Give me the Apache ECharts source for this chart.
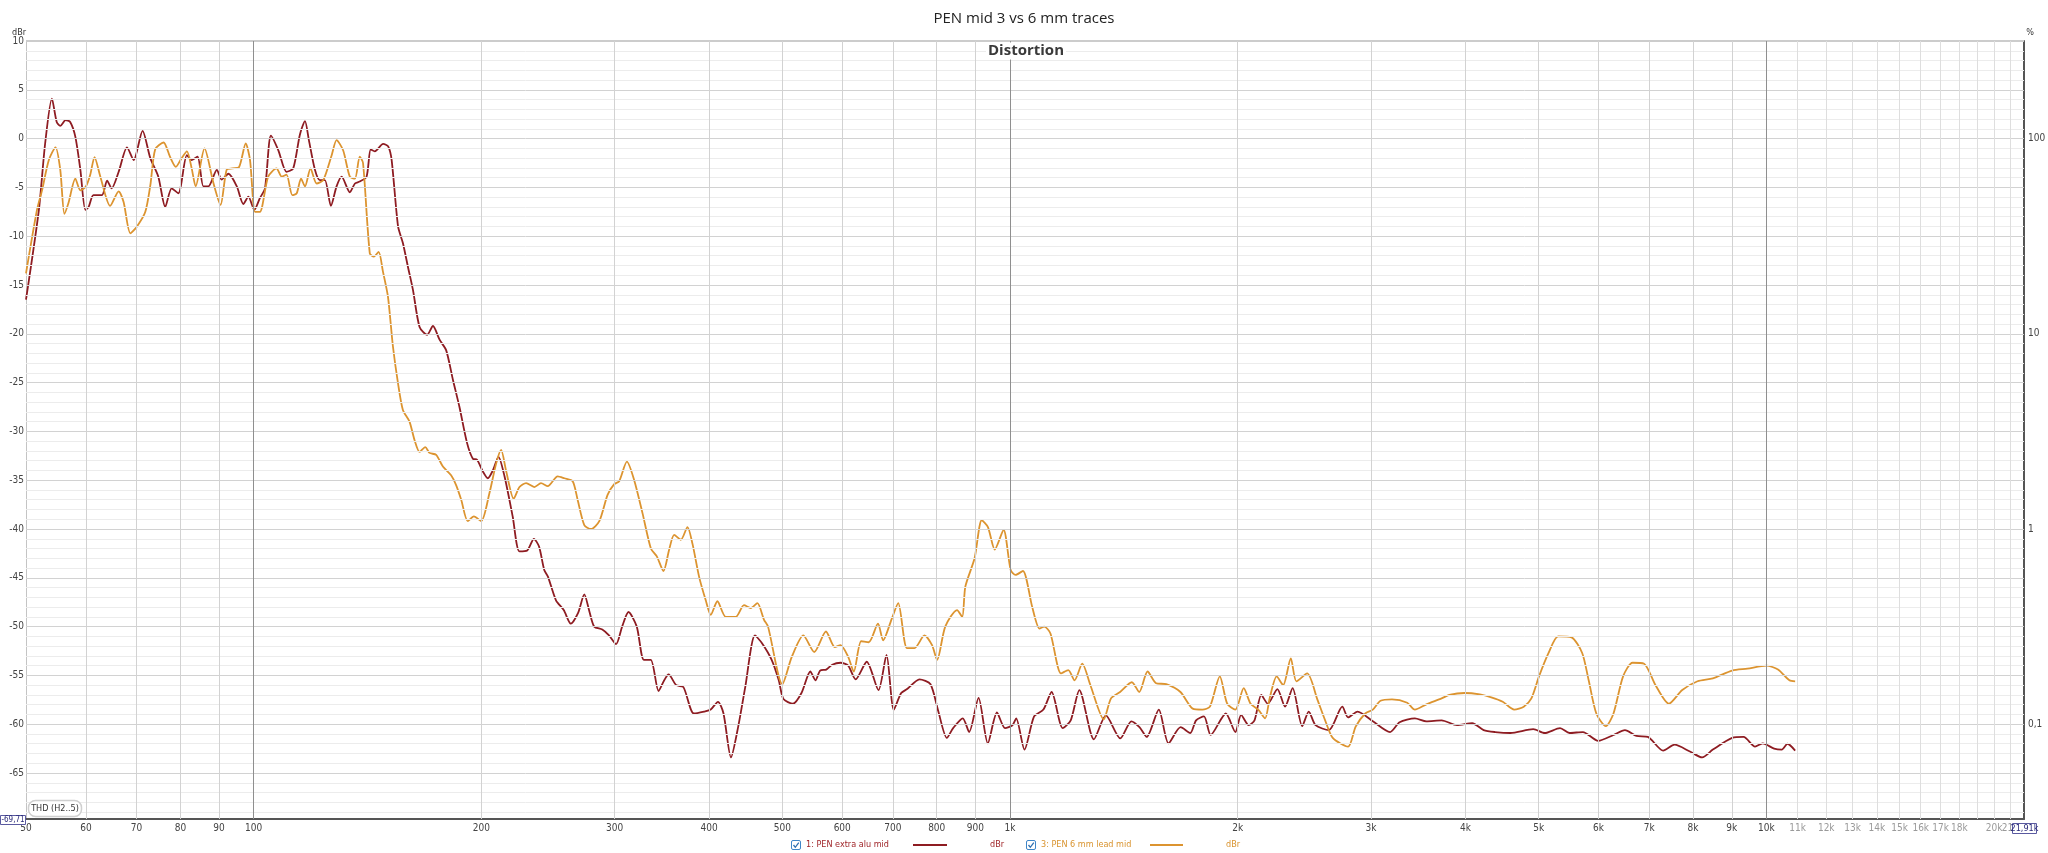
<!DOCTYPE html>
<html><head><meta charset="utf-8">
<script src="https://cdn.jsdelivr.net/npm/echarts@6/dist/echarts.min.js"></script>
<style>html,body{margin:0;padding:0;background:#fff}#c{width:2048px;height:853px}</style>
</head><body><div id="c"></div>
<script>
// ---------- data (Hz, dBr) ----------
const freqAlu = [50,52.0,53.0,54.1,54.9,55.5,56.4,57.2,58.1,59.0,59.9,60.5,61.4,63.0,64.0,64.9,66.3,68.0,69.4,71.3,73.0,74.8,76.4,77.9,79.5,81.6,82.8,84.3,85.8,87.1,89.4,90.7,92.6,95.0,96.9,98.4,100.2,101.9,103.5,105.4,107.8,110.5,112.8,115.1,116.9,118.3,120.5,122.3,124.2,126.5,128.7,130.7,134.0,136.1,138.1,141.0,142.8,144.6,148.3,150.6,152.2,
155.2,157.5,159.9,162.4,165.7,169.6,172.6,176.1,179.7,183.4,187.1,191.5,194.9,197.4,200.9,204.0,207.1,210.7,214.6,
220,224.6,230,234.7,238.4,242.2,245,251,257,262.6,268.5,273.6,278,282,289,295,301.4,307,313,321,328,335,343,349,353.6,362,370,382,394,402,411,418,427.6,437,446.6,460,470,484,494.6,501.6,516.5,530,544.5,553,561,571.5,582,597,611,625,646.5,670,686.6,702,718,731,759,785,804,825,841,866,883,908.7,934.6,961,985,1007.5,1019,1045,1076,1107,1135,1174,1203,1235,1291,1339,1399,1447,1483,1516,1573,1620,1681,1731,1762,1805,1842,
1929,1986,2021,2068,2105,2149,2192,2257,2310,2364,2434,2483,2535,2640,2750,2799,2881,3018,3180,3274,3430,3552,3721,3898,4084,4229,4379,4587,4919,5093,5336,5493,5721,5994,6279,6502,6733,6972,7304,7563,7924,8224,8497,9011,9330,9662,9889,10240,10481,10665,10916];
const dbAlu = [-16.5,-7.3,-0.5,4.1,1.7,1.3,1.9,1.7,0.2,-3.2,-7.3,-7.0,-5.8,-5.8,-4.3,-5.1,-3.4,-0.9,-2.2,0.8,-2.0,-3.9,-7.0,-5.1,-5.6,-1.7,-2.2,-1.85,-4.9,-4.9,-3.2,-4.2,-3.6,-4.9,-6.7,-5.95,-7.3,-6.1,-5.1,0.3,-1.2,-3.4,-3.05,0.4,1.8,-0.15,-3.2,-4.25,-4.25,-6.9,-4.9,-3.9,-5.5,-4.6,-4.4,-3.9,-1.1,-1.3,-0.55,-0.8,-2.2,
-9.0,-10.7,-13.1,-15.5,-19.3,-20.1,-19.2,-20.6,-21.7,-24.7,-27.5,-31.2,-32.8,-32.9,-34.1,-34.8,-34.0,-32.6,-34.6,
-38.7,-42.3,-42.2,-41.0,-41.8,-44.2,-44.9,-47.3,-48.3,-49.7,-48.6,-46.7,-48.5,-50.0,-50.3,-50.9,-51.8,-50.0,-48.5,-50.0,-53.4,-53.4,-56.6,-55.5,-54.9,-56.0,-56.2,-58.9,-58.7,-58.5,-57.7,-58.9,-63.4,-60.3,-56.2,-50.9,-51.7,-53.4,-55.5,-57.4,-57.9,-56.8,-54.6,-55.5,-54.5,-54.4,-53.9,-53.7,-54.0,-55.4,-53.6,-56.5,-52.9,-58.5,-56.8,-56.4,-55.4,-55.9,-58.7,-61.4,-60.4,-59.4,-60.8,-57.3,-61.96,-58.8,-60.4,-60.1,-59.4,-62.6,-59.2,-58.5,-56.7,-60.4,-59.6,-56.5,-61.55,-59.1,-61.45,-59.7,-60.3,-61.3,-58.5,-61.96,-60.3,-60.9,-59.6,-59.2,-61.1,
-58.9,-60.8,-59.05,-60.1,-59.6,-57.0,-57.9,-56.4,-58.2,-56.3,-60.2,-58.7,-60.1,-60.6,-58.2,-59.3,-58.7,-59.7,-60.8,-59.8,-59.4,-59.7,-59.6,-60.1,-59.9,-60.6,-60.8,-60.9,-60.5,-60.9,-60.4,-60.9,-60.8,-61.7,-61.1,-60.6,-61.2,-61.3,-62.7,-62.1,-62.8,-63.4,-62.6,-61.4,-61.3,-62.3,-61.96,-62.5,-62.6,-62.0,-62.7];

const freqLead = [50,51.7,52.5,53.6,54.7,55.5,56.2,56.9,58.1,59.0,60.0,60.8,61.6,62.7,64.6,66.3,67.3,68.7,70.1,71.9,73.0,74.1,76.0,77.5,78.9,80.3,81.6,82.8,83.8,86.1,88.5,90.4,92.1,93.7,95.6,97.6,98.9,100.4,101.9,104.5,107.2,108.9,110.5,112.5,114.0,115.5,116.9,118.9,121.1,123.6,126.8,128.7,131.3,134.0,136.1,138.1,139.5,
142.4,144.2,146.3,148.2,150.5,152.8,155.2,157.5,160.7,163.2,165.7,168.6,170.8,174.3,177.9,182.4,185.2,188.1,191.9,195.5,199.9,205.0,209.2,212.4,215.6,220.7,224.6,229.2,235.0,239.8,244.8,252.3,257.5,264.1,268.1,273.6,279.2,286.4,293.7,299.7,304.3,311.5,318.5,326.7,335.1,341.2,348.2,354.3,359.7,367.1,374.6,380.3,388.1,396.0,402.1,410.3,420.9,433.8,444.9,454.1,463.4,472.9,
478.7,500,514.6,533,551,571,586.5,597,611,621.5,635.6,650.5,669,679.5,697.6,711.5,730.6,747.6,770.6,788.7,801,821,851,864.6,872.8,897.7,917.5,935,954.6,980.6,1002,1017,1040,1070,1094,1110,1131,1168,1194,1217,1246,1277,1330,1360,1398,1449,1482,1520,1560,1609,1680,1744,1796,1838,1894,1937,
1986,2037,2080,2129,2174,2205,2252,2297,2351,2392,2471,2550,2610,2671,2799,2864,2949,3018,3089,3199,3351,3430,3552,3721,3808,3990,4180,4328,4482,4641,4778,4890,5005,5153,5305,5525,5708,5822,5959,6135,6279,6465,6655,6892,7136,7433,7741,8110,8497,9011,9439,10005,10360,10727,10916];
const dbLead = [-13.8,-7.3,-5.3,-2.2,-0.9,-3.2,-7.7,-6.6,-4.1,-5.3,-4.9,-3.7,-1.9,-3.9,-6.9,-5.4,-6.5,-9.7,-9.0,-7.5,-4.8,-1.1,-0.4,-1.85,-2.9,-2.0,-1.3,-3.05,-4.9,-1.0,-4.6,-6.8,-3.2,-3.05,-2.95,-0.5,-2.2,-7.5,-7.5,-3.9,-3.05,-3.9,-3.7,-5.8,-5.6,-4.1,-4.9,-3.05,-4.6,-4.25,-1.7,-0.15,-1.2,-3.9,-4.1,-1.85,-2.5,
-11.75,-12.1,-11.6,-13.6,-16.2,-21.3,-25.1,-27.8,-29.0,-30.9,-32.1,-31.6,-32.2,-32.4,-33.6,-34.5,-35.5,-37.0,-39.2,-38.7,-39.2,-36.3,-33.3,-31.9,-34.0,-36.9,-35.7,-35.3,-35.7,-35.3,-35.6,-34.6,-34.8,-35.1,-37.0,-39.6,-40.0,-39.2,-36.5,-35.4,-35.1,-33.1,-35.0,-38.4,-42.0,-42.8,-44.3,-42.1,-40.6,-41.1,-39.8,-41.5,-44.9,-47.3,-48.8,-47.4,-49.0,-49.0,-47.8,-48.1,-47.6,-49.3,
-50.0,-55.9,-53.1,-50.9,-52.6,-50.5,-52.1,-51.9,-53.1,-54.6,-51.5,-51.6,-49.7,-51.4,-49.2,-47.6,-52.2,-52.2,-50.9,-51.9,-53.4,-50.0,-48.3,-49.0,-45.9,-43.0,-39.1,-39.8,-42.1,-40.1,-44.2,-44.7,-44.3,-48.0,-50.2,-50.0,-50.7,-54.8,-54.45,-55.5,-53.8,-55.98,-59.5,-57.35,-56.7,-55.7,-56.7,-54.6,-55.8,-55.9,-56.7,-58.4,-58.5,-58.2,-55.1,-57.9,
-58.5,-56.3,-57.9,-58.5,-59.4,-57.3,-55.1,-56.0,-53.25,-55.6,-54.8,-57.5,-59.6,-61.4,-62.3,-60.25,-58.9,-58.5,-57.6,-57.45,-57.8,-58.5,-57.96,-57.35,-57.0,-56.8,-56.95,-57.25,-57.7,-58.5,-58.2,-57.35,-55.1,-52.7,-51.0,-51.1,-52.7,-55.5,-58.9,-60.2,-58.9,-55.1,-53.7,-53.8,-56.0,-57.9,-56.5,-55.6,-55.3,-54.5,-54.3,-54.0,-54.4,-55.5,-55.6];

// ---------- ticks ----------
const xTickValues = [50,60,70,80,90,100,200,300,400,500,600,700,800,900,1000,2000,3000,4000,5000,6000,7000,8000,9000,10000,11000,12000,13000,14000,15000,16000,17000,18000,20000,21000];
const xTickLabels = ['50','60','70','80','90','100','200','300','400','500','600','700','800','900','1k','2k','3k','4k','5k','6k','7k','8k','9k','10k','11k','12k','13k','14k','15k','16k','17k','18k','20k','21k'];
const xGridMinor = [60,70,80,90,200,300,400,500,600,700,800,900,2000,3000,4000,5000,6000,7000,8000,9000];
const xGridHigh = [11000,12000,13000,14000,15000,16000,17000,18000,19000,20000,21000];
const xGridMajor = [100,1000,10000];
const yTickValues = [10,5,0,-5,-10,-15,-20,-25,-30,-35,-40,-45,-50,-55,-60,-65];
const pctTickValues = [100,10,1,0.1];
const pctTickLabels = ['100','10','1','0,1'];
const Y_MIN = -69.71, Y_MAX = 10, X_MIN = 50, X_MAX = 21910;

const RED = '#8e1c22', ORANGE = '#dc9430';
const NARROW = "'Liberation Sans Narrow','DejaVu Sans Condensed',sans-serif";

const gridLines = [];
for (let v = Math.ceil(Y_MIN); v < Y_MAX; v++) {
  gridLines.push({yAxis: v, lineStyle: {color: (v % 5 === 0) ? '#d2d2d2' : '#ececec', width: 1, type: 'solid'}});
}
gridLines.push({yAxis: Y_MAX, lineStyle: {color: '#cccccc', width: 2, type: 'solid'}});
xGridMinor.forEach(f => gridLines.push({xAxis: f, lineStyle: {color: '#d2d2d2', width: 1, type: 'solid'}}));
xGridHigh.forEach(f => gridLines.push({xAxis: f, lineStyle: {color: '#dedede', width: 1, type: 'solid'}}));
xGridMajor.forEach(f => gridLines.push({xAxis: f, lineStyle: {color: '#8f8f8f', width: 1, type: 'solid'}}));

const chart = echarts.init(document.getElementById('c'), null, {renderer: 'canvas'});
const option = {
  animation: false,
  backgroundColor: '#ffffff',
  title: {text: 'PEN mid 3 vs 6 mm traces', left: 'center', top: 6,
    textStyle: {fontSize: 15, fontWeight: 'normal', fontFamily: "'Open Sans',sans-serif", color: '#222'}},
  grid: {left: 26, right: 24, top: 41, bottom: 34, show: false},
  xAxis: {type: 'log', logBase: 10, min: X_MIN, max: X_MAX,
    axisLine: {show: true, onZero: false, lineStyle: {color: '#555', width: 2}},
    axisTick: {show: false}, axisLabel: {show: false}, splitLine: {show: false}, minorTick: {show: false}, minorSplitLine: {show: false}},
  yAxis: [
    {type: 'value', min: Y_MIN, max: Y_MAX, position: 'left',
      axisLine: {show: true, onZero: false, lineStyle: {color: '#c4c4c4', width: 1}},
      axisTick: {show: false}, axisLabel: {show: false}, splitLine: {show: false}},
    {type: 'value', min: Y_MIN, max: Y_MAX, position: 'right',
      axisLine: {show: true, onZero: false, lineStyle: {color: '#555', width: 2}},
      axisTick: {show: false}, axisLabel: {show: false}, splitLine: {show: false}}
  ],
  series: [
    {type: 'line', name: 'grid', data: [], silent: true, z: 1,
      markLine: {silent: true, symbol: ['none', 'none'], label: {show: false}, animation: false, data: gridLines}},
    {type: 'line', name: '1: PEN extra alu mid', data: freqAlu.map((f, i) => [f, dbAlu[i]]),
      showSymbol: false, smooth: 0.25, z: 3, lineStyle: {color: RED, width: 1.8}, itemStyle: {color: RED}},
    {type: 'line', name: '3: PEN 6 mm lead mid', data: freqLead.map((f, i) => [f, dbLead[i]]),
      showSymbol: false, smooth: 0.25, z: 4, lineStyle: {color: ORANGE, width: 1.8}, itemStyle: {color: ORANGE}}
  ]
};
chart.setOption(option);

// ---------- texts placed through the axes' own scales ----------
const g = [];
const tx = (x, y, text, o, z) => g.push(Object.assign({type: 'text', x: x, y: y, silent: true, z: z || 10,
  style: Object.assign({text: text, fill: '#444', font: '10px ' + NARROW, textAlign: 'center', textVerticalAlign: 'middle'}, o || {})}));
const xBase = chart.convertToPixel({yAxisIndex: 0}, Y_MIN);
xTickValues.forEach((f, i) => {
  const px = chart.convertToPixel({xAxisIndex: 0}, f);
  tx(px, xBase + 9, xTickLabels[i], {fill: f > 10000 ? '#9a9a9a' : '#444'});
});
yTickValues.forEach(v => {
  tx(24, chart.convertToPixel({yAxisIndex: 0}, v), String(v), {textAlign: 'right'});
});
pctTickValues.forEach((p, i) => {
  const db = 20 * Math.log10(p / 100);
  tx(2028, chart.convertToPixel({yAxisIndex: 0}, db), pctTickLabels[i], {textAlign: 'left'});
});
tx(19, 33, 'dBr', {font: '9px ' + NARROW, fill: '#333'});
tx(2030, 33, '%', {font: '9px ' + NARROW, fill: '#333'});
tx(1026, 51, 'Distortion', {font: 'bold 15px "Open Sans",sans-serif', fill: '#3a3a3a',
  backgroundColor: '#ffffff', padding: [1, 2, 1, 2]});

// THD box
g.push({type: 'rect', shape: {x: 28.5, y: 800.5, width: 53, height: 16, r: 7}, silent: true, z: 10,
  style: {fill: '#fff', stroke: '#cfcfcf', lineWidth: 1.5}});
tx(55, 808.5, 'THD (H2..5)', {font: '9px ' + NARROW, fill: '#333'}, 11);
// range boxes
g.push({type: 'rect', shape: {x: 0.5, y: 815.5, width: 25, height: 9}, silent: true, z: 10, style: {fill: '#fff', stroke: '#5a5aa0', lineWidth: 1}});
tx(13, 820, '-69,71', {font: '8px ' + NARROW, fill: '#2a2a7a'}, 11);
g.push({type: 'rect', shape: {x: 2012.5, y: 823.5, width: 24, height: 10}, silent: true, z: 12, style: {fill: '#fff', stroke: '#5a5aa0', lineWidth: 1}});
tx(2024.5, 828.5, '21,91k', {font: '9px ' + NARROW, fill: '#2a2a7a'}, 13);

// legend
function checkbox(x, y) {
  g.push({type: 'rect', shape: {x: x + 0.5, y: y + 0.5, width: 9, height: 9, r: 1.5}, silent: true,
    style: {fill: '#fff', stroke: '#3f86c8', lineWidth: 1}});
  g.push({type: 'polyline', shape: {points: [[x + 2.5, y + 5], [x + 4.3, y + 7.3], [x + 7.8, y + 2.6]]}, silent: true,
    style: {stroke: '#2f6fb0', lineWidth: 1.3, fill: null}});
}
const LY = 845;
checkbox(791, LY - 5);
tx(806, LY, '1: PEN extra alu mid', {textAlign: 'left', font: '9px ' + NARROW, fill: '#a0262a'});
g.push({type: 'line', shape: {x1: 913, y1: LY, x2: 947, y2: LY}, silent: true, style: {stroke: RED, lineWidth: 2}});
tx(990, LY, 'dBr', {textAlign: 'left', font: '9px ' + NARROW, fill: '#a0262a'});
checkbox(1026, LY - 5);
tx(1041, LY, '3: PEN 6 mm lead mid', {textAlign: 'left', font: '9px ' + NARROW, fill: '#d9932e'});
g.push({type: 'line', shape: {x1: 1150, y1: LY, x2: 1183, y2: LY}, silent: true, style: {stroke: ORANGE, lineWidth: 2}});
tx(1226, LY, 'dBr', {textAlign: 'left', font: '9px ' + NARROW, fill: '#d9932e'});

chart.setOption({graphic: {elements: g}});
</script>
</body></html>
